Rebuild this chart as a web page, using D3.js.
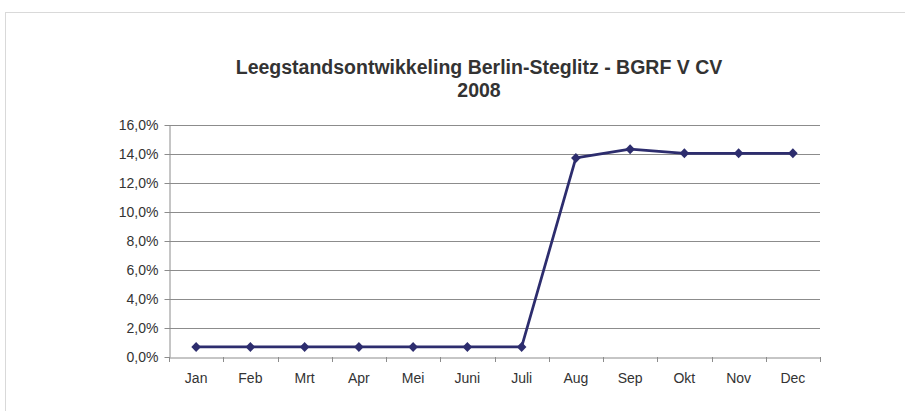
<!DOCTYPE html>
<html><head><meta charset="utf-8">
<script src="https://cdn.jsdelivr.net/npm/d3@7"></script>
<style>body{margin:0;background:#fff}svg{display:block;font-family:"Liberation Sans",Arial,sans-serif}</style>
</head><body><svg id="c" width="905" height="411"></svg>
<script>
const months = ["Jan","Feb","Mrt","Apr","Mei","Juni","Juli","Aug","Sep","Okt","Nov","Dec"];
const vacancy = [0.0069,0.0069,0.0069,0.0069,0.0069,0.0069,0.0069,0.1373,0.1433,0.1405,0.1405,0.1405];
const yTicks = [0,0.02,0.04,0.06,0.08,0.10,0.12,0.14,0.16];
const titleLines = ["Leegstandsontwikkeling Berlin-Steglitz - BGRF V CV","2008"];

const svg = d3.select("#c");
svg.append("rect").attr("x",5.5).attr("y",12.5).attr("width",920).attr("height",420)
  .attr("fill","#fff").attr("stroke","#d9d9d9");
const m = {l:169, r:820, t:125, b:357};
const x = d3.scaleBand().domain(months).range([m.l,m.r]);
const y = d3.scaleLinear().domain([0,0.16]).range([m.b,m.t]);
const fmt = v => d3.format(".1f")(v*100).replace(".",",")+"%";

// grid
svg.append("g").selectAll("line").data(yTicks.slice(1)).join("line")
  .attr("x1",m.l).attr("x2",m.r).attr("y1",d=>Math.round(y(d))+0.5).attr("y2",d=>Math.round(y(d))+0.5)
  .attr("stroke","#8c8c8c").attr("stroke-width",1);

const ya = svg.append("g").attr("transform",`translate(${m.l+0.5},0)`)
  .call(d3.axisLeft(y).tickValues(yTicks).tickFormat(fmt).tickSize(5).tickPadding(6).tickSizeOuter(0));
const xa = svg.append("g").attr("transform",`translate(0,${Math.round(m.b)+0.5})`)
  .call(d3.axisBottom(x).tickSize(0).tickPadding(16));
[ya,xa].forEach(g=>{
  g.selectAll("path,line").attr("stroke","#8c8c8c");
  g.selectAll("text").attr("fill","#333").style("font-size","14px").style("font-family","'Liberation Sans',Arial,sans-serif");
});
// x tick marks at band boundaries
const bounds = months.map(d=>x(d)).concat([m.r]);
svg.append("g").selectAll("line").data(bounds).join("line")
  .attr("x1",d=>Math.round(d)+0.5).attr("x2",d=>Math.round(d)+0.5)
  .attr("y1",m.b).attr("y2",m.b+5).attr("stroke","#8c8c8c");

const cx = d=>x(d)+x.bandwidth()/2;
const line = d3.line().x((d,i)=>cx(months[i])).y(d=>y(d));
svg.append("path").datum(vacancy).attr("d",line).attr("fill","none")
  .attr("stroke","#2d2d6e").attr("stroke-width",2.75).attr("stroke-linejoin","round");
svg.append("g").selectAll("path").data(vacancy).join("path")
  .attr("transform",(d,i)=>`translate(${cx(months[i])},${y(d)})`)
  .attr("d","M0,-5L4.8,0L0,5L-4.8,0Z").attr("fill","#2d2d6e");

svg.append("g").selectAll("text").data(titleLines).join("text")
  .attr("x",479).attr("y",(d,i)=>74+i*23).attr("text-anchor","middle")
  .attr("fill","#333").style("font-size","19.5px").style("font-weight","bold").text(d=>d);
</script></body></html>
